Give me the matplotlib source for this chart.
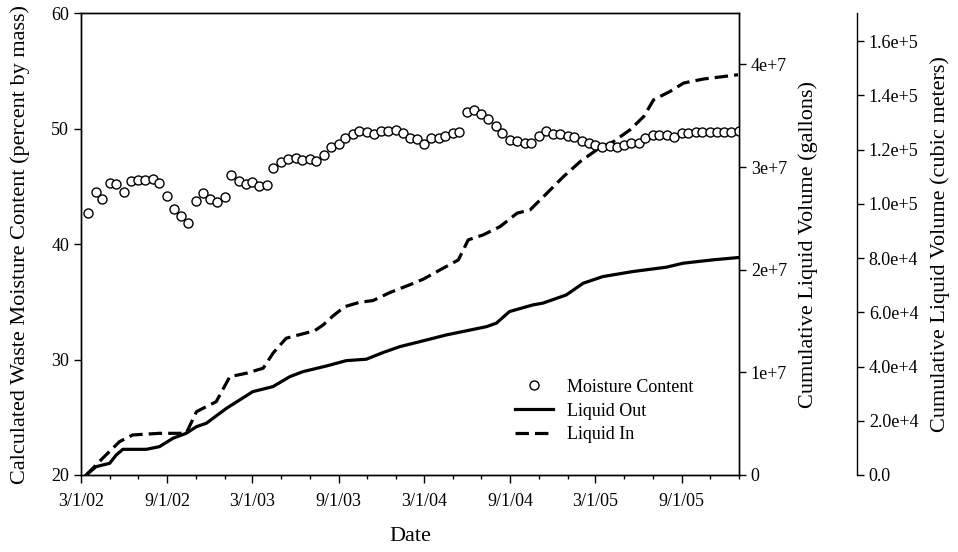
import numpy as np
import pandas as pd
import matplotlib
matplotlib.use('Agg')
import matplotlib.pyplot as plt
import matplotlib.dates as mdates
from matplotlib.ticker import FuncFormatter

plt.rcParams['font.family'] = ['Liberation Serif', 'DejaVu Serif']
plt.rcParams['font.size'] = 13

# Moisture content (percent by mass), read twice a month from 3/15/02
moisture = [42.66, 44.53, 43.87, 45.26, 45.17, 44.53, 45.43, 45.54, 45.57, 45.60,
            45.26, 44.16, 43.06, 42.45, 41.79, 43.75, 44.39, 43.92, 43.66, 44.07,
            45.97, 45.45, 45.19, 45.39, 45.05, 45.11, 46.61, 47.07, 47.36, 47.47,
            47.27,
            47.33, 47.19, 47.71, 48.43, 48.69, 49.21, 49.52, 49.78, 49.67, 49.50,
            49.78, 49.78, 49.90, 49.61, 49.21, 49.09, 48.69, 49.21, 49.21, 49.33,
            49.64, 49.67, 51.45, 51.60, 51.23, 50.82, 50.22, 49.58, 48.98, 48.94,
            48.72,
            48.77, 49.38, 49.78, 49.52, 49.50, 49.38, 49.29, 48.92, 48.72, 48.57,
            48.43, 48.51, 48.37, 48.57, 48.72, 48.77, 49.15, 49.44, 49.44, 49.44,
            49.29, 49.58, 49.64, 49.70, 49.70, 49.67, 49.70, 49.73, 49.73, 49.76]
moisture_dates = pd.date_range('2002-03-15', periods=len(moisture), freq='SMS')

# Cumulative liquid out (million gallons)
out_dates = ['2002-03-12', '2002-04-02', '2002-05-01', '2002-05-15', '2002-05-29',
             '2002-07-18', '2002-08-15', '2002-09-13', '2002-10-11', '2002-11-02',
             '2002-11-23', '2003-01-05', '2003-03-02', '2003-04-14', '2003-05-20',
             '2003-06-17', '2003-08-06', '2003-09-17', '2003-10-30', '2003-12-04',
             '2004-01-09', '2004-02-21', '2004-04-18', '2004-07-12', '2004-08-02',
             '2004-08-30', '2004-10-19', '2004-11-09', '2004-12-29', '2005-02-03',
             '2005-03-17', '2005-05-20', '2005-07-30', '2005-09-04', '2005-11-07',
             '2005-12-30']
out_gal = [0.0, 0.81, 1.14, 1.95, 2.50, 2.50, 2.76, 3.58, 4.06, 4.71,
           5.04, 6.50, 8.12, 8.61, 9.58, 10.07, 10.62, 11.14, 11.28, 11.92,
           12.50, 12.99, 13.65, 14.45, 14.79, 15.92, 16.57, 16.74, 17.54, 18.68,
           19.33, 19.82, 20.24, 20.63, 20.96, 21.18]

# Cumulative liquid in (million gallons)
in_dates = ['2002-03-12', '2002-04-16', '2002-05-22', '2002-06-19', '2002-08-15',
            '2002-10-11', '2002-11-02', '2002-11-23', '2002-12-14', '2003-01-12',
            '2003-02-16', '2003-03-24', '2003-04-14', '2003-05-12', '2003-07-12',
            '2003-07-30', '2003-08-20', '2003-09-14', '2003-10-16', '2003-11-13',
            '2003-12-19', '2004-01-30', '2004-02-28', '2004-04-04', '2004-05-13',
            '2004-06-03', '2004-07-05', '2004-08-10', '2004-09-15', '2004-10-13',
            '2004-11-18', '2004-12-23', '2005-01-28', '2005-03-04', '2005-04-09',
            '2005-05-14', '2005-06-12', '2005-07-03', '2005-08-07', '2005-09-05',
            '2005-10-17', '2005-12-30']
in_gal = [0.0, 1.63, 3.25, 3.90, 4.06, 4.06, 6.17, 6.66, 7.14, 9.58,
          9.91, 10.40, 11.86, 13.32, 14.06, 14.62, 15.50, 16.40, 16.83, 16.99,
          17.77, 18.52, 19.07, 19.98, 20.95, 22.90, 23.39, 24.20, 25.50, 25.83,
          27.46, 29.07, 30.54, 31.68, 32.49, 33.63, 34.92, 36.55, 37.36, 38.18,
          38.57, 38.99]

GAL_PER_M3 = 264.17
gal_max = 4.5e7

fig = plt.figure(figsize=(9.58, 5.52), dpi=100)
ax = fig.add_axes([0.0846, 0.1395, 0.6868, 0.8369])
ax2 = ax.twinx()
ax3 = ax.twinx()

# lines on the gallons axis
l_out, = ax2.plot(pd.to_datetime(out_dates), np.array(out_gal) * 1e6, color='black',
                  lw=2.3, label='Liquid Out')
l_in, = ax2.plot(pd.to_datetime(in_dates), np.array(in_gal) * 1e6, color='black',
                 lw=2.3, linestyle=(0, (4.2, 1.9)), label='Liquid In')
ax2.set_ylim(0, gal_max)
ax2.set_yticks([0, 1e7, 2e7, 3e7, 4e7])
ax2.yaxis.set_major_formatter(FuncFormatter(lambda v, p: '0' if v == 0 else '%de+7' % round(v / 1e7)))

# circles on top
pts, = ax.plot(moisture_dates, moisture, 'o', ms=6.5, mfc='white', mec='black',
               mew=1.0, label='Moisture Content')
ax.set_zorder(ax2.get_zorder() + 2)
ax.patch.set_visible(False)

ax.set_ylim(20, 60)
ax.set_yticks([20, 30, 40, 50, 60])
ax.set_xlim(pd.Timestamp('2002-03-01'), pd.Timestamp('2006-01-01'))
ax.xaxis.set_major_locator(mdates.MonthLocator(bymonth=[3, 9]))
ax.xaxis.set_minor_locator(mdates.MonthLocator(bymonth=[1, 3, 5, 7, 9, 11]))
ax.xaxis.set_major_formatter(FuncFormatter(
    lambda v, p: '%d/%d/%02d' % (mdates.num2date(v).month, mdates.num2date(v).day,
                                 mdates.num2date(v).year % 100)))

# cubic meters axis
ax3.spines['right'].set_position(('outward', 85))
for s in ['top', 'left', 'bottom']:
    ax3.spines[s].set_visible(False)
ax3.set_ylim(0, gal_max / GAL_PER_M3)
m3_ticks = np.arange(0, 1.7e5, 2e4)
ax3.set_yticks(m3_ticks)


def m3_fmt(v, p):
    if v == 0:
        return '0.0'
    e = int(np.floor(np.log10(v)))
    return '%.1fe+%d' % (v / 10 ** e, e)


ax3.yaxis.set_major_formatter(FuncFormatter(m3_fmt))

for a in [ax, ax2, ax3]:
    a.tick_params(direction='out', length=5, width=1, labelsize=13)
    for s in a.spines.values():
        s.set_linewidth(1.0)
ax.tick_params(axis='x', which='minor', direction='out', length=3, width=1)
ax.tick_params(axis='x', which='major', length=6, pad=7)

ax.set_ylabel('Calculated Waste Moisture Content (percent by mass)', fontsize=16)
ax.yaxis.set_label_coords(-0.077, 0.5)
ax.set_xlabel('Date', fontsize=16)
ax.xaxis.set_label_coords(0.5, -0.113)
ax2.set_ylabel('Cumulative Liquid Volume (gallons)', fontsize=16)
ax2.yaxis.set_label_coords(1.09, 0.5)
ax3.set_ylabel('Cumulative Liquid Volume (cubic meters)', fontsize=16)
ax3.yaxis.set_label_coords(1.29, 0.5)

ax.legend([pts, l_out, l_in], ['Moisture Content', 'Liquid Out', 'Liquid In'],
          loc='upper left', bbox_to_anchor=(0.646, 0.228), frameon=False,
          numpoints=1, handlelength=2.1, handletextpad=0.8, labelspacing=0.38,
          borderpad=0, fontsize=13)

fig.savefig('out.png', dpi=100)
